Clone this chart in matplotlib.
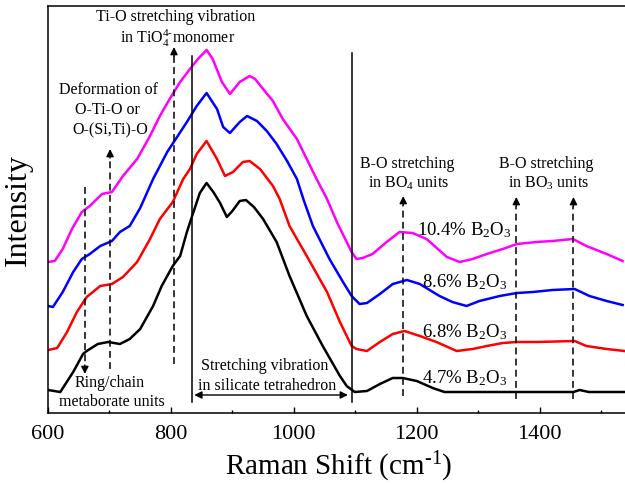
import matplotlib
matplotlib.use("Agg")
import matplotlib.pyplot as plt
from matplotlib.ticker import MultipleLocator

plt.rcParams['font.family'] = ['Liberation Serif', 'DejaVu Serif']
plt.rcParams['mathtext.fontset'] = 'custom'
plt.rcParams['mathtext.rm'] = 'Liberation Serif'
plt.rcParams['mathtext.it'] = 'Liberation Serif:italic'
plt.rcParams['mathtext.bf'] = 'Liberation Serif:bold'

# ---- data (Raman shift, cm-1 ; intensity, arbitrary units) ----
x_47 = [600, 620, 641, 657, 663, 681, 698, 717, 733, 750, 771, 785, 803, 815, 826, 834, 847,
        858, 869, 880, 891, 900, 912, 922, 935, 950, 972, 993, 1021, 1047, 1075, 1086, 1099,
        1119, 1140, 1161, 1177, 1200, 1226, 1245, 1300, 1360, 1400, 1455, 1465, 1480, 1540]
y_47 = [23, 21, 41, 59, 62, 69, 71, 69, 74, 84, 107, 127, 147, 157, 181, 196, 220,
        230, 221, 210, 196, 202, 212, 213, 206, 194, 171, 137, 97, 67, 37, 27, 21,
        22, 29, 35, 35, 32, 25, 21, 21, 21, 21, 21, 23, 21, 21]

x_68 = [600, 615, 631, 647, 663, 685, 704, 722, 745, 766, 782, 803, 820, 831, 842, 858, 875,
        888, 901, 917, 928, 945, 966, 977, 993, 1021, 1054, 1075, 1094, 1102, 1119, 1140,
        1161, 1180, 1205, 1232, 1265, 1291, 1314, 1340, 1363, 1395, 1457, 1476, 1509, 1538]
y_68 = [63, 65, 81, 101, 116, 127, 129, 136, 151, 174, 194, 211, 234, 244, 259, 272, 254,
        237, 241, 251, 252, 244, 227, 214, 187, 157, 121, 91, 67, 64, 62, 71,
        79, 82, 77, 71, 62, 64, 67, 70, 71, 71, 72, 67, 64, 62]

x_86 = [600, 608, 624, 641, 655, 668, 685, 704, 717, 733, 750, 771, 794, 810, 826, 842, 858,
        875, 885, 896, 912, 924, 940, 956, 972, 989, 1005, 1016, 1031, 1058, 1080, 1094,
        1107, 1119, 1140, 1161, 1184, 1205, 1237, 1258, 1281, 1302, 1335, 1363, 1389, 1421,
        1457, 1481, 1509, 1535]
y_86 = [107, 106, 121, 141, 154, 159, 167, 172, 181, 187, 205, 234, 261, 276, 291, 307, 320,
        304, 286, 280, 291, 297, 292, 282, 269, 252, 234, 213, 187, 154, 131, 117,
        109, 110, 119, 129, 133, 129, 117, 111, 107, 112, 117, 120, 121, 123,
        124, 117, 112, 108]

x_104 = [600, 611, 624, 639, 655, 668, 688, 704, 722, 745, 766, 782, 798, 815, 831, 844, 858,
         868, 883, 896, 912, 928, 937, 950, 966, 982, 1005, 1021, 1037, 1054, 1070, 1086,
         1094, 1102, 1112, 1128, 1151, 1172, 1193, 1216, 1249, 1270, 1291, 1314, 1340, 1363,
         1395, 1421, 1454, 1476, 1509, 1535]
y_104 = [151, 152, 164, 184, 201, 207, 219, 221, 237, 254, 277, 297, 314, 331, 344, 354, 363,
         354, 331, 319, 331, 337, 334, 324, 312, 294, 274, 254, 234, 214, 191, 171,
         161, 154, 155, 159, 171, 181, 180, 174, 156, 151, 154, 159, 164, 169,
         171, 172, 174, 167, 159, 152]

series = [
    (x_47, y_47, 'black', '4.7% B$_2$O$_3$', 31),
    (x_68, y_68, '#ff0000', '6.8% B$_2$O$_3$', 77),
    (x_86, y_86, '#0000ff', '8.6% B$_2$O$_3$', 127),
    (x_104, y_104, '#ff00ff', '10.4% B$_2$O$_3$', 179),
]

# band positions (cm-1)
dash_up = [(701, 44, 264), (805, 49, 366), (1178, 17, 217), (1362, 14, 216), (1455, 14, 216)]
dash_down = [(660, 226, 39)]
solid_lines = [(834, 11, 357), (1094, 11, 360)]

fig = plt.figure(figsize=(6.25, 4.85), dpi=100)
ax = fig.add_axes([48/625, 71/485, 590/625, 407/485])

for xs, ys, c, lab, yl in series:
    ax.plot(xs, ys, color=c, lw=1.8, solid_joinstyle='round')
    ax.text(1278, yl, lab, fontsize=13.5, ha='center', va='baseline')

for x, y0, y1 in solid_lines:
    ax.plot([x, x], [y0, y1], color='black', lw=1.1)

def dashed_arrow(x, y0, tip):
    sgn = 1 if tip > y0 else -1
    head = 9
    ax.plot([x, x], [y0, tip - sgn * head], color='black', lw=1.1,
            dashes=[4.5, 2.8])
    ax.annotate('', xy=(x, tip), xytext=(x, tip - sgn * head),
                arrowprops=dict(arrowstyle='-|>', color='black', lw=1.0,
                                mutation_scale=11, shrinkA=0, shrinkB=0))

for x, y0, tip in dash_up + dash_down:
    dashed_arrow(x, y0, tip)

ax.annotate('', xy=(838, 18), xytext=(1088, 18),
            arrowprops=dict(arrowstyle='<|-|>', color='black', lw=1.0,
                            mutation_scale=11, shrinkA=0, shrinkB=0))

fs = 11.5
ax.text(808, 393, 'Ti-O stretching vibration', fontsize=fs, ha='center', va='baseline')
ax.text(811, 371, 'in TiO$_4^{4\\text{-}}$monomer', fontsize=fs, ha='center', va='baseline')
ax.text(698, 320, 'Deformation of', fontsize=fs, ha='center', va='baseline')
ax.text(696, 300, 'O-Ti-O or', fontsize=fs, ha='center', va='baseline')
ax.text(701, 280, 'O-(Si,Ti)-O', fontsize=fs, ha='center', va='baseline')
ax.text(701, 27, 'Ring/chain', fontsize=fs, ha='center', va='baseline')
ax.text(704, 8, 'metaborate units', fontsize=fs, ha='center', va='baseline')
ax.text(953, 44, 'Stretching vibration', fontsize=fs, ha='center', va='baseline')
ax.text(956, 24, 'in silicate tetrahedron', fontsize=fs, ha='center', va='baseline')
ax.text(1184, 246, 'B-O stretching', fontsize=fs, ha='center', va='baseline')
ax.text(1187, 226, 'in BO$_4$ units', fontsize=fs, ha='center', va='baseline')
ax.text(1411, 246, 'B-O stretching', fontsize=fs, ha='center', va='baseline')
ax.text(1415, 226, 'in BO$_3$ units', fontsize=fs, ha='center', va='baseline')

ax.set_xlim(600, 1560)
ax.set_ylim(0, 407)
ax.xaxis.set_major_locator(MultipleLocator(200))
ax.xaxis.set_minor_locator(MultipleLocator(100))
ax.set_yticks([])
ax.tick_params(axis='x', which='major', direction='in', length=4.3, width=1.0,
               labelsize=16, pad=8)
ax.tick_params(axis='x', which='minor', direction='in', length=2.2, width=1.0)
for s in ax.spines.values():
    s.set_linewidth(1.1)

ax.set_xlabel('Raman Shift (cm$^{\\text{-}1}$)', fontsize=21)
ax.xaxis.set_label_coords((339 - 48) / 590, -0.088)
ax.set_ylabel('Intensity', fontsize=23)
ax.yaxis.set_label_coords(-0.026, 0.5)

fig.savefig('out.png', dpi=100)
